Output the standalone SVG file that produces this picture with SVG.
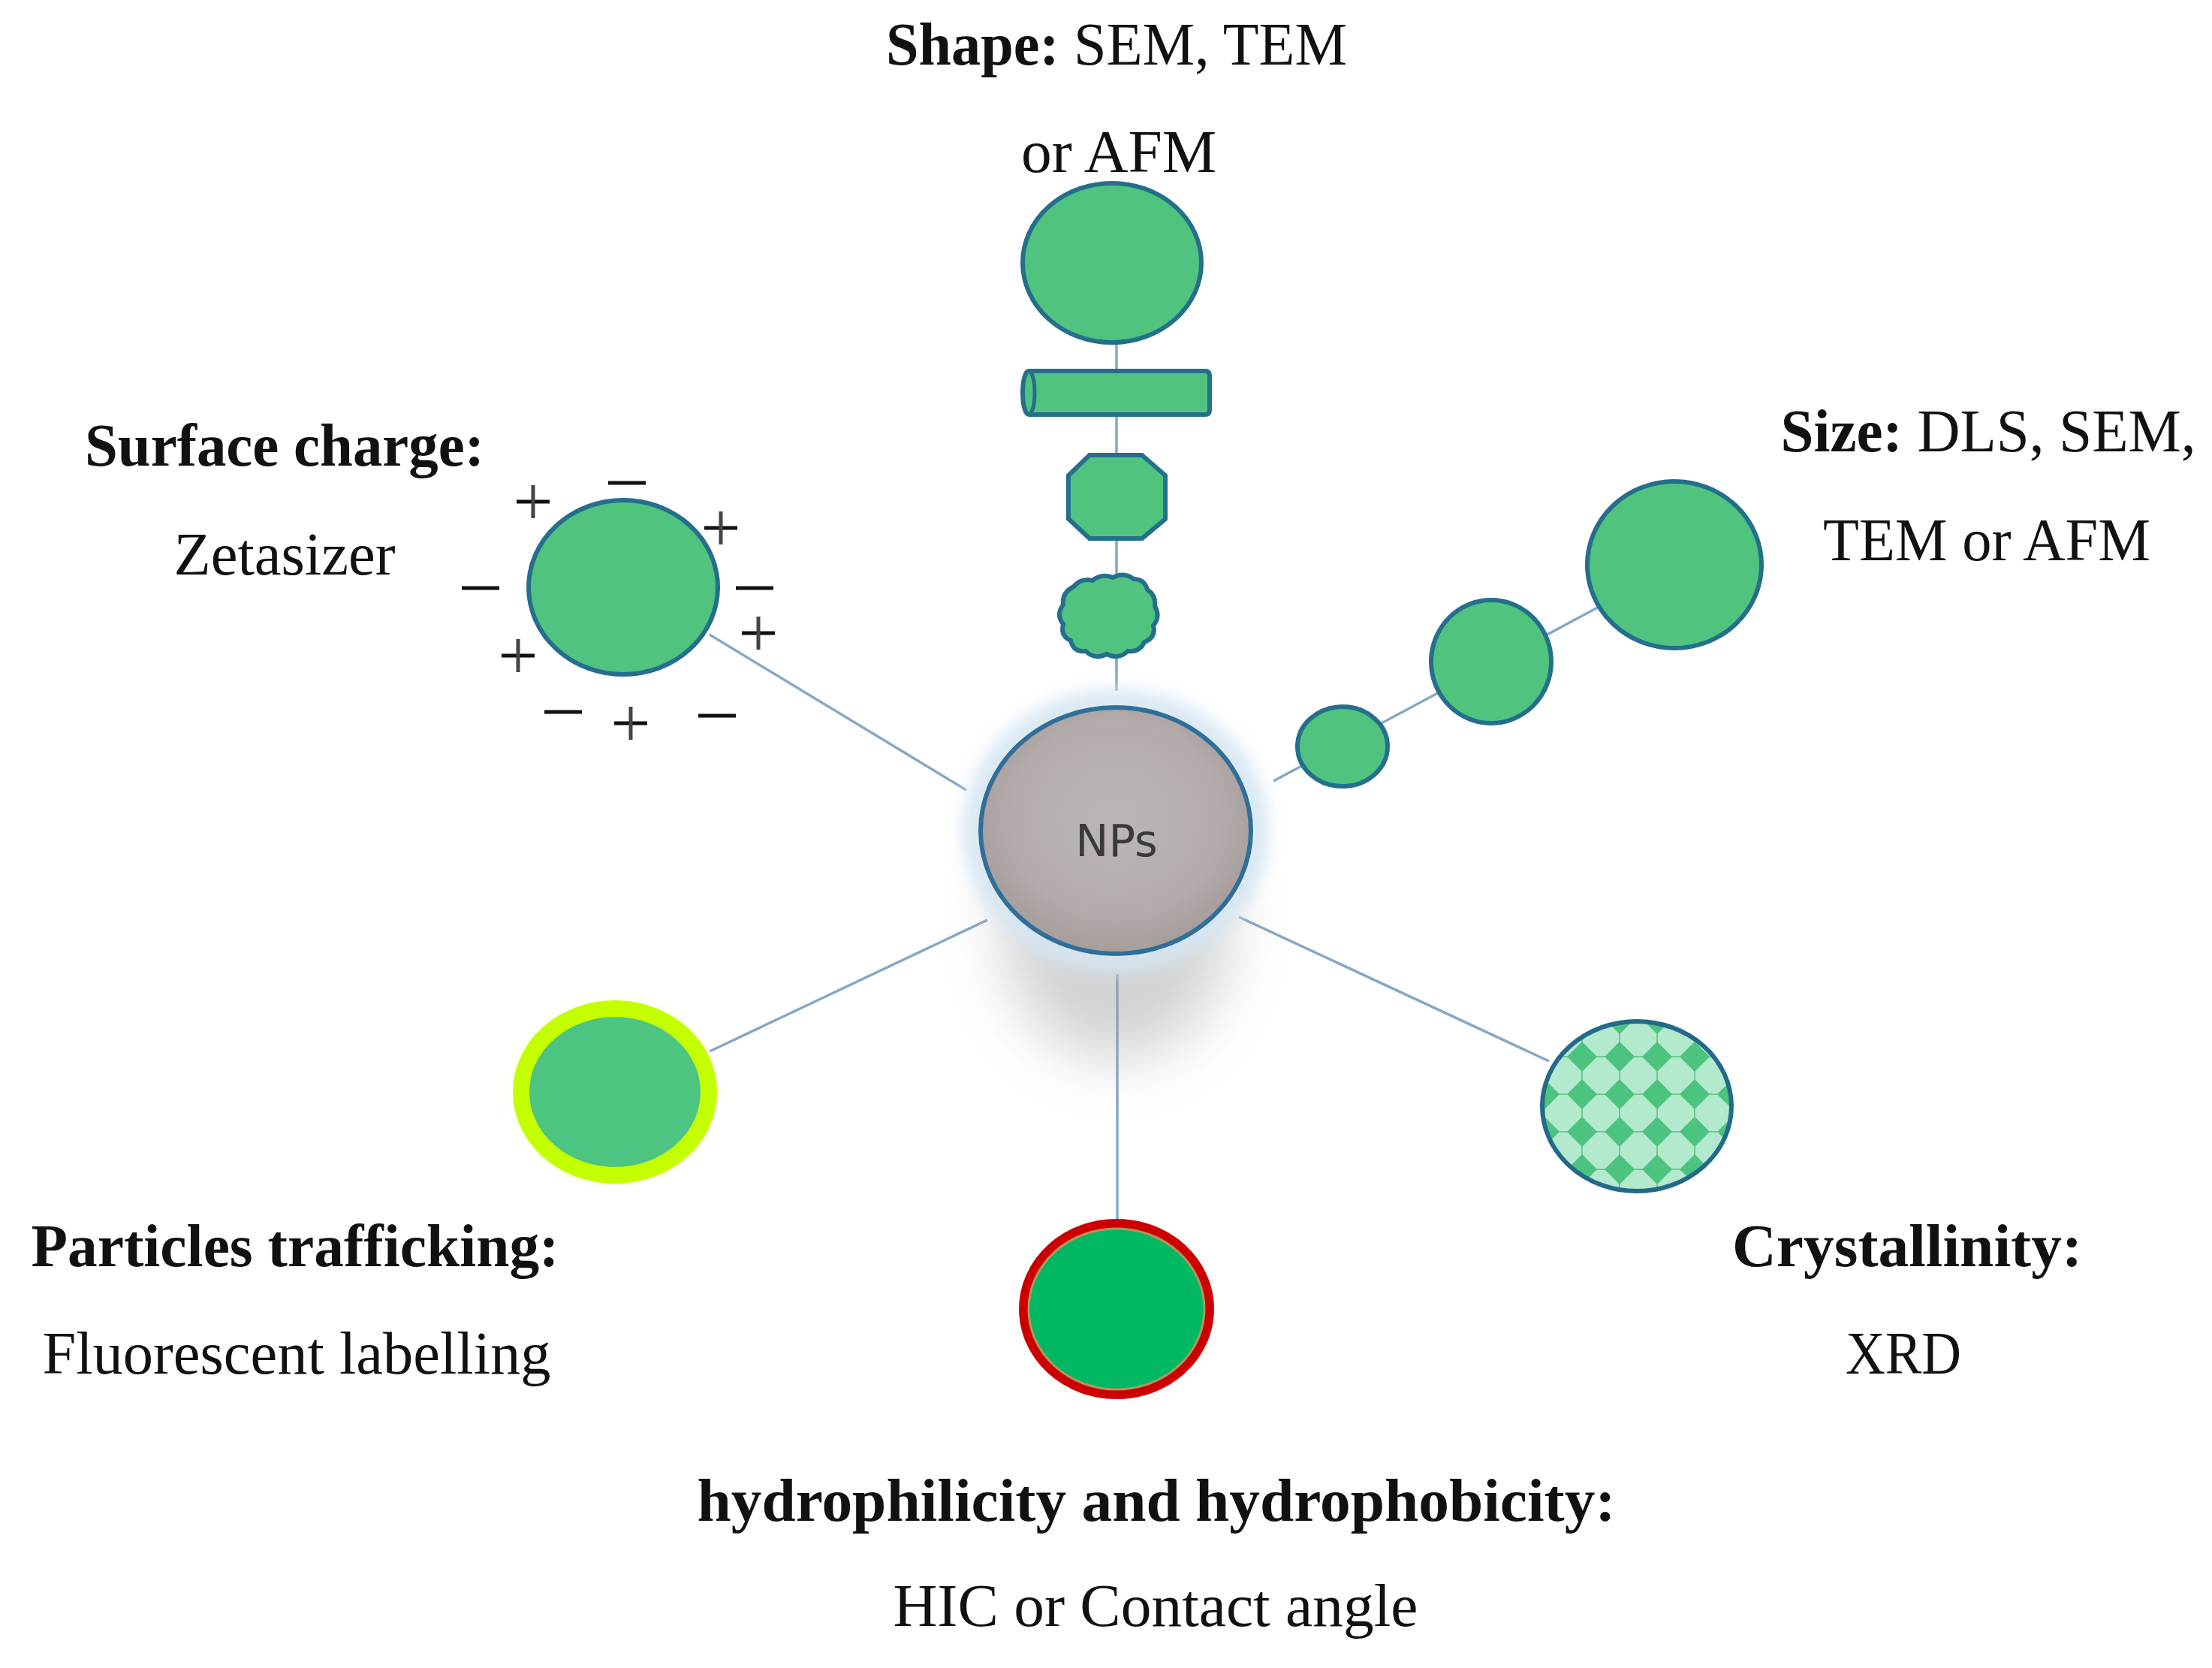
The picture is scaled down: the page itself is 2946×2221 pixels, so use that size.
<svg xmlns="http://www.w3.org/2000/svg" width="2946" height="2221" viewBox="0 0 2946 2221">
<style>
.lbl{font-family:"Liberation Serif","Times New Roman",serif;font-size:80px;fill:#111;text-anchor:middle}
.b{font-weight:bold}
.conn{stroke:#86a8c6;stroke-width:3.5;fill:none}
.np{fill:#50c47f;stroke:#246f8c;stroke-width:6}
.sign{stroke:#111;stroke-width:5;fill:none}
.signv{stroke:#444;stroke-width:5;fill:none}
</style>
<defs>
<radialGradient id="npg" cx="50%" cy="45%" r="55%">
<stop offset="0" stop-color="#bbb6b4"/>
<stop offset="0.7" stop-color="#b3acaa"/>
<stop offset="1" stop-color="#a69d9b"/>
</radialGradient>
<filter id="blur40" x="-50%" y="-50%" width="200%" height="200%"><feGaussianBlur stdDeviation="40"/></filter>
<filter id="blur12" x="-30%" y="-30%" width="160%" height="160%"><feGaussianBlur stdDeviation="12"/></filter>
<filter id="blur6" x="-30%" y="-30%" width="160%" height="160%"><feGaussianBlur stdDeviation="6"/></filter>
<pattern id="diam" patternUnits="userSpaceOnUse" x="2082" y="1382" width="50" height="50">
<rect width="50" height="50" fill="#b3e9cd"/>
<line x1="0" y1="25" x2="50" y2="25" stroke="#6fcb96" stroke-width="2"/>
<line x1="25" y1="0" x2="25" y2="50" stroke="#6fcb96" stroke-width="2"/>
<polygon points="25,5 45,25 25,45 5,25" fill="#4cc37e"/>
</pattern>
</defs>
<rect width="2946" height="2221" fill="#ffffff"/>

<g id="connectors">
<line class="conn" x1="1487" y1="380" x2="1487" y2="920"/>
<line class="conn" x1="945" y1="845" x2="1287" y2="1052"/>
<line class="conn" x1="1696" y1="1040" x2="2150" y2="797"/>
<line class="conn" x1="945" y1="1400" x2="1315" y2="1225"/>
<line class="conn" x1="1650" y1="1221" x2="2063" y2="1413"/>
<line class="conn" x1="1488" y1="1297" x2="1488" y2="1628"/>
</g>

<g id="node-np">
<ellipse cx="1486" cy="1240" rx="150" ry="170" fill="#9c9c9c" opacity="0.45" filter="url(#blur40)"/>
<ellipse cx="1486" cy="1106" rx="186" ry="170" fill="none" stroke="#d6e6f2" stroke-width="34" filter="url(#blur12)"/>
<ellipse cx="1486" cy="1106" rx="180" ry="164" fill="url(#npg)" stroke="#2f6f99" stroke-width="6"/>
<text x="1487" y="1140" style="font-family:'DejaVu Sans',Verdana,sans-serif;font-size:59px;fill:#3a3a3a;text-anchor:middle">NPs</text>
</g>

<g id="node-shape">
<ellipse cx="1481" cy="350" rx="119" ry="106" class="np"/>
<path d="M1370,494 H1605 Q1611,494 1611,500 V546 Q1611,552 1605,552 H1370 A8,29 0 0 1 1370,494 Z" class="np"/>
<path d="M1370,494 A8,29 0 0 1 1370,552" fill="none" stroke="#246f8c" stroke-width="5"/>
<polygon points="1451,606 1521,606 1552,633 1552,691 1521,717 1451,717 1423,691 1423,633" class="np"/>
<path transform="translate(0,6)" d="M1430,775 q10,-12 25,-8 q12,-10 27,-4 q15,-8 28,2 q14,0 18,14 q12,8 10,22 q8,14 -2,26 q4,16 -12,22 q-6,14 -22,12 q-12,12 -28,4 q-16,8 -28,-4 q-16,2 -20,-14 q-14,-6 -10,-22 q-10,-12 0,-26 q-2,-16 14,-24 z" class="np" stroke-width="5"/>
<text class="lbl" x="1487" y="86" textLength="614" lengthAdjust="spacingAndGlyphs"><tspan class="b">Shape:</tspan> SEM, TEM</text>
<text class="lbl" x="1490" y="229" textLength="260" lengthAdjust="spacingAndGlyphs">or AFM</text>
</g>

<g id="node-surface">
<ellipse cx="830" cy="782" rx="126" ry="116" class="np" stroke="#1878aa"/>
<g>
<path class="sign" d="M688,668 H732 M810,643 H860 M938,703 H982 M615,783 H665 M980,783 H1030 M988,843 H1032 M668,873 H712 M725,948 H775 M818,963 H862 M930,953 H980"/>
<path class="signv" d="M710,646 V690 M960,681 V725 M1010,821 V865 M690,851 V895 M840,941 V985"/>
</g>
<text class="lbl b" x="379" y="620" textLength="532" lengthAdjust="spacingAndGlyphs">Surface charge:</text>
<text class="lbl" x="379" y="765" textLength="295" lengthAdjust="spacingAndGlyphs">Zetasizer</text>
</g>

<g id="node-size">
<ellipse cx="1788" cy="994" rx="60" ry="53" class="np"/>
<ellipse cx="1986" cy="881" rx="80" ry="82" class="np"/>
<ellipse cx="2230" cy="752" rx="116" ry="111" class="np"/>
<text class="lbl" x="2648" y="601" textLength="553" lengthAdjust="spacingAndGlyphs"><tspan class="b">Size:</tspan> DLS, SEM,</text>
<text class="lbl" x="2646" y="746" textLength="436" lengthAdjust="spacingAndGlyphs">TEM or AFM</text>
</g>

<g id="node-trafficking">
<ellipse cx="819" cy="1454" rx="136" ry="122" fill="#f6ffc0" opacity="0.6" filter="url(#blur6)"/>
<ellipse cx="819" cy="1454" rx="125" ry="111" fill="#4ec481" stroke="#c4ff00" stroke-width="22"/>
<text class="lbl b" x="393" y="1686" textLength="703" lengthAdjust="spacingAndGlyphs">Particles trafficking:</text>
<text class="lbl" x="395" y="1829" textLength="677" lengthAdjust="spacingAndGlyphs">Fluorescent labelling</text>
</g>

<g id="node-crystallinity">
<ellipse cx="2180" cy="1473" rx="126" ry="113" fill="url(#diam)" stroke="#236a8a" stroke-width="6"/>
<text class="lbl b" x="2540" y="1686" textLength="466" lengthAdjust="spacingAndGlyphs">Crystallinity:</text>
<text class="lbl" x="2535" y="1829" textLength="154" lengthAdjust="spacingAndGlyphs">XRD</text>
</g>

<g id="node-hydro">
<ellipse cx="1487" cy="1743" rx="124" ry="114" fill="#00b862" stroke="#cc0000" stroke-width="12"/>
<ellipse cx="1487" cy="1743" rx="117" ry="107" fill="none" stroke="#b3955c" stroke-width="3"/>
<text class="lbl b" x="1540" y="2025" textLength="1223" lengthAdjust="spacingAndGlyphs">hydrophilicity and hydrophobicity:</text>
<text class="lbl" x="1539" y="2165" textLength="699" lengthAdjust="spacingAndGlyphs">HIC or Contact angle</text>
</g>
</svg>
